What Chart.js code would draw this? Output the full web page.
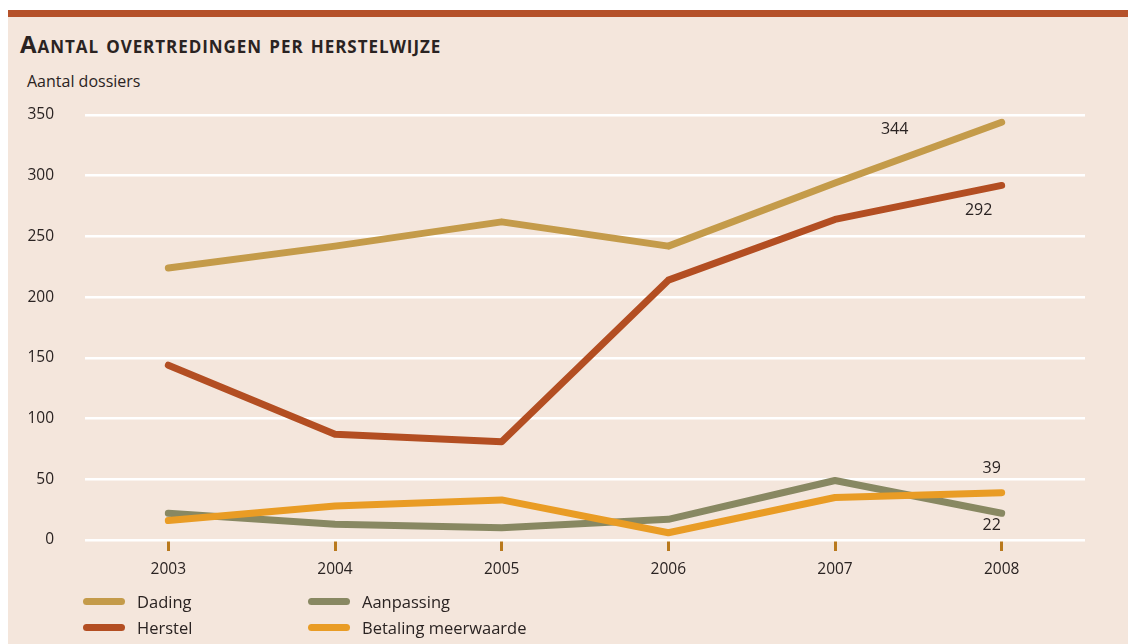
<!DOCTYPE html>
<html>
<head>
<meta charset="utf-8">
<script src="https://cdn.jsdelivr.net/npm/chart.js@4"></script>
<style>
  body { margin: 0; background: #ffffff; width: 1128px; height: 644px; overflow: hidden; position: relative; font-family: "Open Sans", sans-serif; color: #2a2322; }
  #topbar { position: absolute; left: 8px; top: 10px; width: 1120px; height: 7px; background: #b5512a; }
  #panel { position: absolute; left: 8px; top: 17px; width: 1120px; height: 627px; background: #f4e6dc; }
  #title { position: absolute; left: 20px; top: 27px; font-size: 24px; font-weight: 700; font-variant: small-caps; letter-spacing: 0.95px; }
  #ylabel { position: absolute; left: 27px; top: 70px; font-size: 16px; }
  #wrap { position: absolute; left: 0; top: 0; width: 1128px; height: 644px; }
  .leg { position: absolute; font-size: 16.5px; display: flex; align-items: center; }
  .leg span.sw { display: inline-block; width: 42px; height: 7px; border-radius: 4px; margin-right: 12px; }
</style>
</head>
<body>
<div id="topbar"></div>
<div id="panel"></div>
<div id="title">Aantal overtredingen per herstelwijze</div>
<div id="ylabel">Aantal dossiers</div>
<div id="wrap"><canvas id="chart"></canvas></div>
<div id="legend"></div>
<script>
// Data
const years = ['2003', '2004', '2005', '2006', '2007', '2008'];
const dading = [224, 242, 262, 242, 294, 344];
const herstel = [144, 87, 81, 214, 264, 292];
const aanpassing = [22, 13, 10, 17, 49, 22];
const betaling = [16, 28, 33, 6, 35, 39];
const yTicks = [0, 50, 100, 150, 200, 250, 300, 350];

const series = [
    { label: 'Dading', data: dading, color: '#c49b4a', order: 3 },
    { label: 'Herstel', data: herstel, color: '#b34e22', order: 2 },
    { label: 'Aanpassing', data: aanpassing, color: '#888862', order: 1 },
    { label: 'Betaling meerwaarde', data: betaling, color: '#e99c25', order: 0 }
];

// End-of-line value labels (offset from the 2008 point)
const endLabels = [
    { series: 0, dx: -107, dy: 7 },
    { series: 1, dx: -23, dy: 25 },
    { series: 3, dx: -10, dy: -24 },
    { series: 2, dx: -10, dy: 12 }
];

const endLabelPlugin = {
    id: 'endLabels',
    afterDatasetsDraw(chart) {
        const ctx = chart.ctx;
        const xs = chart.scales.x, ys = chart.scales.y;
        const last = years.length - 1;
        ctx.save();
        ctx.font = '16px "Open Sans"';
        ctx.fillStyle = '#2a2322';
        ctx.textAlign = 'center';
        ctx.textBaseline = 'middle';
        endLabels.forEach(l => {
            const v = series[l.series].data[last];
            ctx.fillText(String(v), xs.getPixelForValue(last) + l.dx, ys.getPixelForValue(v) + l.dy);
        });
        ctx.restore();
    }
};

const ctx = document.getElementById('chart').getContext('2d');
new Chart(ctx, {
    type: 'line',
    data: {
        labels: years,
        datasets: series.map(s => ({
            label: s.label,
            data: s.data,
            borderColor: s.color,
            backgroundColor: s.color,
            borderWidth: 7,
            borderCapStyle: 'round',
            borderJoinStyle: 'round',
            pointRadius: 0,
            tension: 0,
            order: s.order
        }))
    },
    options: {
        responsive: true,
        maintainAspectRatio: false,
        animation: false,
        layout: { padding: { top: 115, right: 43, left: 0, bottom: 0 } },
        plugins: { legend: { display: false }, tooltip: { enabled: false } },
        scales: {
            x: {
                offset: true,
                afterFit: s => { s.height = 104; },
                border: { display: false },
                grid: { drawOnChartArea: false, drawTicks: true, tickLength: 11, tickWidth: 3, tickColor: '#b9791d' },
                ticks: { color: '#2a2322', font: { family: 'Open Sans', size: 15.5 }, padding: 9, maxRotation: 0 }
            },
            y: {
                min: 0,
                max: 350,
                afterFit: s => { s.width = 85; },
                afterBuildTicks: s => { s.ticks = yTicks.map(v => ({ value: v })); },
                border: { display: false },
                grid: { color: '#ffffff', lineWidth: 2.5, drawTicks: false },
                ticks: { color: '#2a2322', font: { family: 'Open Sans', size: 15.5 }, padding: 31 }
            }
        }
    },
    plugins: [endLabelPlugin]
});

// Legend in two columns
const legendPos = [
    { left: 83, top: 590 }, { left: 83, top: 616 },
    { left: 308, top: 590 }, { left: 308, top: 616 }
];
const legendOrder = [0, 1, 2, 3];
const legend = document.getElementById('legend');
legendOrder.forEach((si, i) => {
    const d = document.createElement('div');
    d.className = 'leg';
    d.style.left = legendPos[i].left + 'px';
    d.style.top = legendPos[i].top + 'px';
    d.innerHTML = '<span class="sw" style="background:' + series[si].color + '"></span>' + series[si].label;
    legend.appendChild(d);
});
</script>
</body>
</html>
